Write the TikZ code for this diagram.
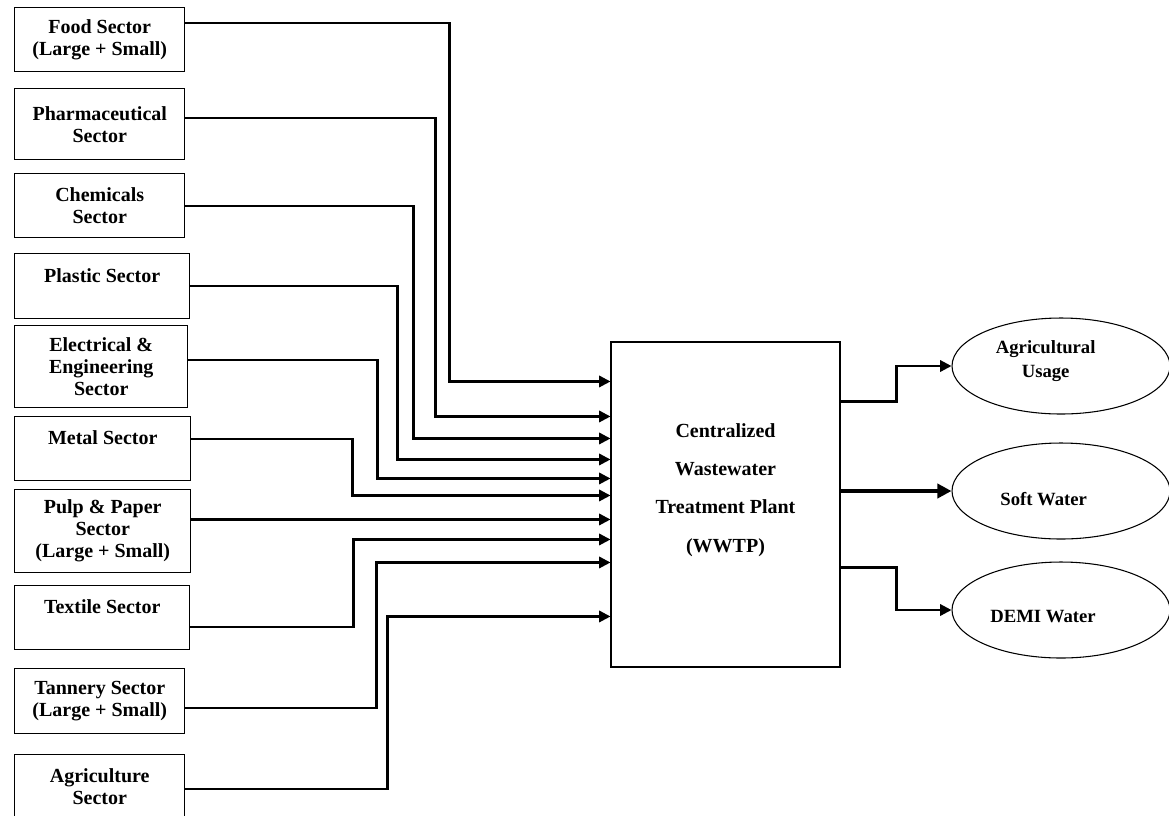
\documentclass[tikz,border=0pt]{standalone}
\usepackage{fontspec}
\setmainfont{Liberation Serif}
\usetikzlibrary{arrows.meta,shapes.geometric}
\tikzset{
sector/.style={
draw,
line width=1.1pt,
anchor=north west,
inner sep=0pt,
align=center,
font=\bfseries\fontsize{15}{16.5}\selectfont
},
plant/.style={
draw,
line width=0.8pt,
minimum width=171.75pt,
minimum height=243.75pt
},
plantlabel/.style={
align=center,
font=\bfseries\fontsize{15}{28.7}\selectfont
},
outlet/.style={
draw,
ellipse,
line width=0.8pt,
minimum width=163.5pt,
minimum height=72pt,
inner sep=0pt
},
outletlabel/.style={
align=center,
font=\bfseries\fontsize{14}{18}\selectfont
},
flow/.style={
-{Triangle[length=8.5pt,width=8.5pt]},
line width=1.7pt
},
bigflow/.style={
-{Triangle[length=10.5pt,width=10.5pt]},
line width=3.2pt
}
}
\begin{document}
\begin{tikzpicture}[x=0.75pt,y=-0.75pt]
\useasboundingbox (0,0) rectangle (1169,815);
\node[sector,minimum width=127.5pt,minimum height=48pt](food) at (14,7){Food Sector\\(Large + Small)};
\node[sector,minimum width=127.5pt,minimum height=53.25pt](pharma) at (14,88){Pharmaceutical\\Sector};
\node[sector,minimum width=127.5pt,minimum height=48pt](chem) at (14,173){Chemicals\\Sector};
\node[sector,minimum width=131.25pt,minimum height=48.75pt](plastic) at (14,253){Plastic Sector\\\mbox{}};
\node[sector,minimum width=129.75pt,minimum height=61.5pt](elec) at (14,325){Electrical \&\\Engineering\\Sector};
\node[sector,minimum width=132pt,minimum height=48pt](metal) at (14,416){Metal Sector\\\mbox{}};
\node[sector,minimum width=132pt,minimum height=62.25pt](pulp) at (14,489){Pulp \& Paper\\Sector\\(Large + Small)};
\node[sector,minimum width=131.25pt,minimum height=48pt](textile) at (14,585){Textile Sector\\\mbox{}};
\node[sector,minimum width=127.5pt,minimum height=48.75pt](tannery) at (14,668){Tannery Sector\\(Large + Small)};
\node[sector,minimum width=127.5pt,minimum height=48pt](agrisec) at (14,754){Agriculture\\Sector};

\node[plant](main) at (725.5,504.5){};
\node[plantlabel](plantname) at ([yshift=11pt]main.center){Centralized\\Wastewater\\Treatment Plant\\(WWTP)};

\node[outlet](agri) at (1061,366){};
\node[outlet](soft) at (1061,491){};
\node[outlet](demi) at (1061,610){};
\node[outletlabel](agritext) at ([xshift=-11.5pt,yshift=4pt]agri.center){Agricultural\\Usage};
\node[outletlabel](softtext) at ([xshift=-13pt,yshift=-6.4pt]soft.center){Soft Water};
\node[outletlabel](demitext) at ([xshift=-13.5pt,yshift=-4.9pt]demi.center){DEMI Water};

\foreach \i/\d in {1/30,2/56.25,3/72.75,4/88.5,5/102.75,6/115.5,7/133.5,8/148.5,9/165.75,10/206.25}
\coordinate (in\i) at ([yshift=-\d pt]main.north west);

\draw[flow]([yshift=-12pt]food.north east)--++(264,0)|-(in1);
\draw[flow]([yshift=-22.5pt]pharma.north east)--++(250,0)|-(in2);
\draw[flow]([yshift=-24.75pt]chem.north east)--++(228,0)|-(in3);
\draw[flow]([yshift=-24.75pt]plastic.north east)--++(207,0)|-(in4);
\draw[flow]([yshift=-26.25pt]elec.north east)--++(189,0)|-(in5);
\draw[flow]([yshift=-17.25pt]metal.north east)--++(161,0)|-(in6);
\draw[flow](in7-|pulp.east)--(in7);
\draw[flow]([yshift=-31.5pt]textile.north east)--++(163,0)|-(in8);
\draw[flow]([yshift=-30pt]tannery.north east)--++(191,0)|-(in9);
\draw[flow]([yshift=-26.25pt]agrisec.north east)--++(202,0)|-(in10);

\draw[flow]([yshift=-45pt]main.north east)--++(56,0)|-(agri.west);
\draw[bigflow](main.east|-soft.west)--(soft.west);
\draw[flow]([yshift=-169.5pt]main.north east)--++(56,0)|-(demi.west);
\end{tikzpicture}
\end{document}
